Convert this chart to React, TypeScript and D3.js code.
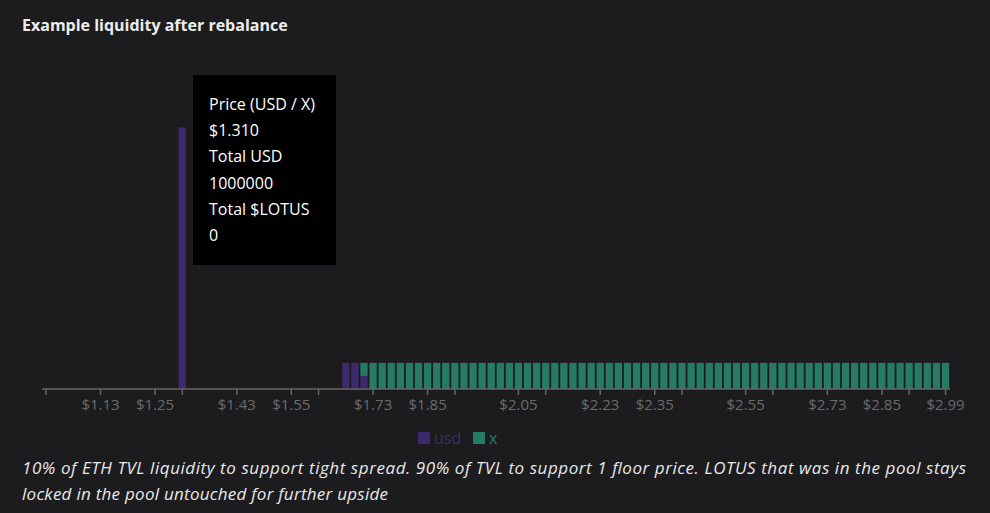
import React from "react";
import * as d3 from "d3";

const W = 990;
const H = 513;

// price buckets (USD per X)
const tallPrice = [1.31];
const tallUsd = [1000000];
const tallX = [0];

const rangePrices = d3.range(67).map((i) => +(1.67 + i * 0.02).toFixed(2));
const rangeUsd = [100000, 100000, 50000];
const rangeX = [0, 0, 50000];
const restX = 100000;

const tickValues = [1.01, 1.13, 1.25, 1.31, 1.43, 1.55, 1.61, 1.73, 1.85, 1.91, 2.05, 2.11, 2.23, 2.35, 2.41, 2.55, 2.61, 2.73, 2.85, 2.91, 2.99];
const labelledTicks = [1.13, 1.25, 1.43, 1.55, 1.73, 1.85, 2.05, 2.23, 2.35, 2.55, 2.73, 2.85, 2.99];

const seriesNames = ["usd", "x"];
const COLORS = { usd: "#3d2a6d", x: "#257b63" };

const tooltipLines = ["Price (USD / X)", "$1.310", "Total USD", "1000000", "Total $LOTUS", "0"];

const title = "Example liquidity after rebalance";
const footer = [
  "10% of ETH TVL liquidity to support tight spread. 90% of TVL to support 1 floor price. LOTUS that was in the pool stays",
  "locked in the pool untouched for further upside",
];
const footerWidths = [944, 366];

type Row = { price: number; usd: number; x: number };

const data: Row[] = [
  ...tallPrice.map((p, i) => ({ price: p, usd: tallUsd[i], x: tallX[i] })),
  ...rangePrices.map((p, i) => ({
    price: p,
    usd: i < rangeUsd.length ? rangeUsd[i] : 0,
    x: i < rangeX.length ? rangeX[i] : restX,
  })),
];

const FONT = "'Open Sans', 'Noto Sans', sans-serif";

export default function App() {
  const x = d3.scaleLinear().domain([1.01, 2.99]).range([46, 945.5]);
  const baseY = 389;
  const y = d3.scaleLinear().domain([0, 1000000]).range([baseY, 127.5]);
  const barW = 7.3;

  const stack = d3.stack<Row>().keys(seriesNames)(data);

  return (
    <svg
      width={W}
      height={H}
      style={{ position: "absolute", left: 0, top: 0, background: "#1c1c1e", fontFamily: FONT }}
    >
      <rect width={W} height={H} fill="#1c1c1e" />
      <text x={22} y={31} fill="#ececec" fontSize={16} fontWeight={700}>
        {title}
      </text>

      {stack.map((s) => (
        <g key={s.key} fill={COLORS[s.key as "usd" | "x"]}>
          {s.map((d, i) =>
            d[1] - d[0] > 0 ? (
              <rect
                key={i}
                x={x(d.data.price) - barW / 2}
                y={y(d[1])}
                width={barW}
                height={y(d[0]) - y(d[1])}
              />
            ) : null
          )}
        </g>
      ))}

      <line x1={x.range()[0] - 4} x2={x.range()[1] + 4.5} y1={baseY} y2={baseY} stroke="#666" strokeWidth={1.5} />
      {tickValues.map((t) => (
        <g key={t} transform={`translate(${x(t)},${baseY})`}>
          <line y1={0} y2={6} stroke="#666" strokeWidth={1.5} />
          {labelledTicks.includes(t) ? (
            <text y={21} textAnchor="middle" fill="#6a6a6a" fontSize={15}>
              {"$" + t.toFixed(2)}
            </text>
          ) : null}
        </g>
      ))}

      {/* legend */}
      <g transform="translate(418,432)">
        <rect width={12} height={12} fill={COLORS.usd} />
        <text x={16} y={11.5} fill={COLORS.usd} fontSize={16}>
          {seriesNames[0]}
        </text>
        <rect x={55} width={12} height={12} fill={COLORS.x} />
        <text x={71} y={11.5} fill={COLORS.x} fontSize={16}>
          {seriesNames[1]}
        </text>
      </g>

      {/* tooltip */}
      <g transform="translate(193,75)">
        <rect width={143} height={190} fill="#000" />
        {tooltipLines.map((l, i) => (
          <text key={i} x={16} y={35 + i * 26.2} fill="#fff" fontSize={16}>
            {l}
          </text>
        ))}
      </g>

      {footer.map((l, i) => (
        <text
          key={i}
          x={22}
          y={474 + i * 26}
          fill="#e8e8e8"
          fontSize={17}
          fontStyle="italic"
          textLength={footerWidths[i]}
          lengthAdjust="spacing"
        >
          {l}
        </text>
      ))}
    </svg>
  );
}
